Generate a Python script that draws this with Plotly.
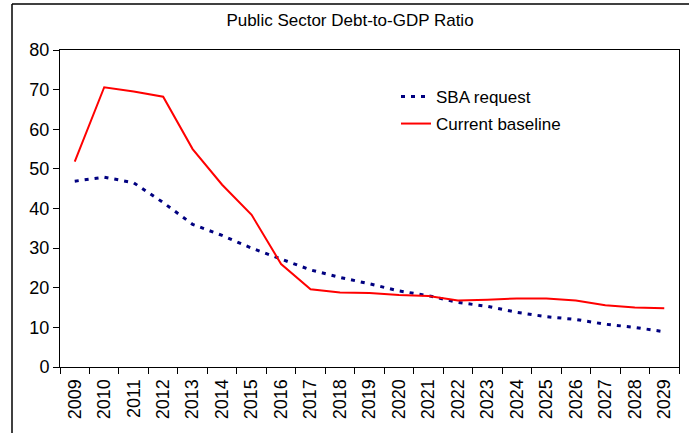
import plotly.graph_objects as go

years = [str(y) for y in range(2009, 2030)]
sba_request = [46.9, 47.9, 46.5, 41.5, 36.0, 33.2, 30.0, 27.3, 24.5, 22.6, 21.0,
               19.2, 18.0, 16.3, 15.3, 13.8, 12.7, 12.0, 10.8, 10.0, 8.9]
current_baseline = [51.8, 70.6, 69.5, 68.2, 55.0, 46.0, 38.4, 26.0, 19.6, 18.8, 18.7,
                    18.2, 17.9, 16.8, 17.0, 17.3, 17.3, 16.8, 15.6, 15.0, 14.8]
y_ticks = [0, 10, 20, 30, 40, 50, 60, 70, 80]

W, H = 689, 433
FONT = "Liberation Sans, Arial, sans-serif"

fig = go.Figure()
fig.add_trace(go.Scatter(x=years, y=sba_request, mode="lines", name="SBA request",
                         legend="legend",
                         line=dict(color="#000080", width=3, dash="4px,6px")))
fig.add_trace(go.Scatter(x=years, y=current_baseline, mode="lines", name="Current baseline",
                         legend="legend2",
                         line=dict(color="#ff0000", width=2)))

x0, x1 = 60 / W, 679 / W
y0, y1 = 1 - 367 / H, 1 - 50 / H

leg_common = dict(xanchor="left", yanchor="middle", bgcolor="rgba(0,0,0,0)",
                  font=dict(size=17, family=FONT), borderwidth=0)

fig.update_layout(
    width=W, height=H,
    margin=dict(l=0, r=0, t=0, b=0),
    paper_bgcolor="white", plot_bgcolor="white",
    font=dict(family=FONT, color="black", size=17),
    title=dict(text="Public Sector Debt-to-GDP Ratio", x=350 / W, xanchor="center",
               y=1 - 20 / H, yanchor="middle", font=dict(size=17, family=FONT)),
    showlegend=True,
    legend=dict(x=396 / W, y=1 - 97 / H, **leg_common),
    legend2=dict(x=396 / W, y=1 - 124 / H, **leg_common),
    xaxis=dict(domain=[x0, x1], type="category", range=[-0.5, 20.5],
               showline=True, linecolor="black", linewidth=1, mirror=True,
               ticks="outside", tickson="boundaries", ticklen=6, tickcolor="black",
               tickangle=-90, showgrid=False, zeroline=False, ticklabelstandoff=4,
               tickfont=dict(size=18, family=FONT), automargin=False),
    yaxis=dict(domain=[y0, y1], range=[0, 80], tickvals=y_ticks,
               showline=True, linecolor="black", linewidth=1, mirror=True,
               ticks="outside", ticklen=6, tickcolor="black",
               showgrid=False, zeroline=False,
               tickfont=dict(size=18, family=FONT), automargin=False),
    shapes=[
        dict(type="line", xref="paper", yref="paper", x0=12 / W, x1=1, y0=1 - 4 / H, y1=1 - 4 / H,
             line=dict(color="black", width=1.5)),
        dict(type="line", xref="paper", yref="paper", x0=12 / W, x1=12 / W, y0=0, y1=1 - 4 / H,
             line=dict(color="black", width=1.5)),
    ],
)

fig.write_html("out.html")
